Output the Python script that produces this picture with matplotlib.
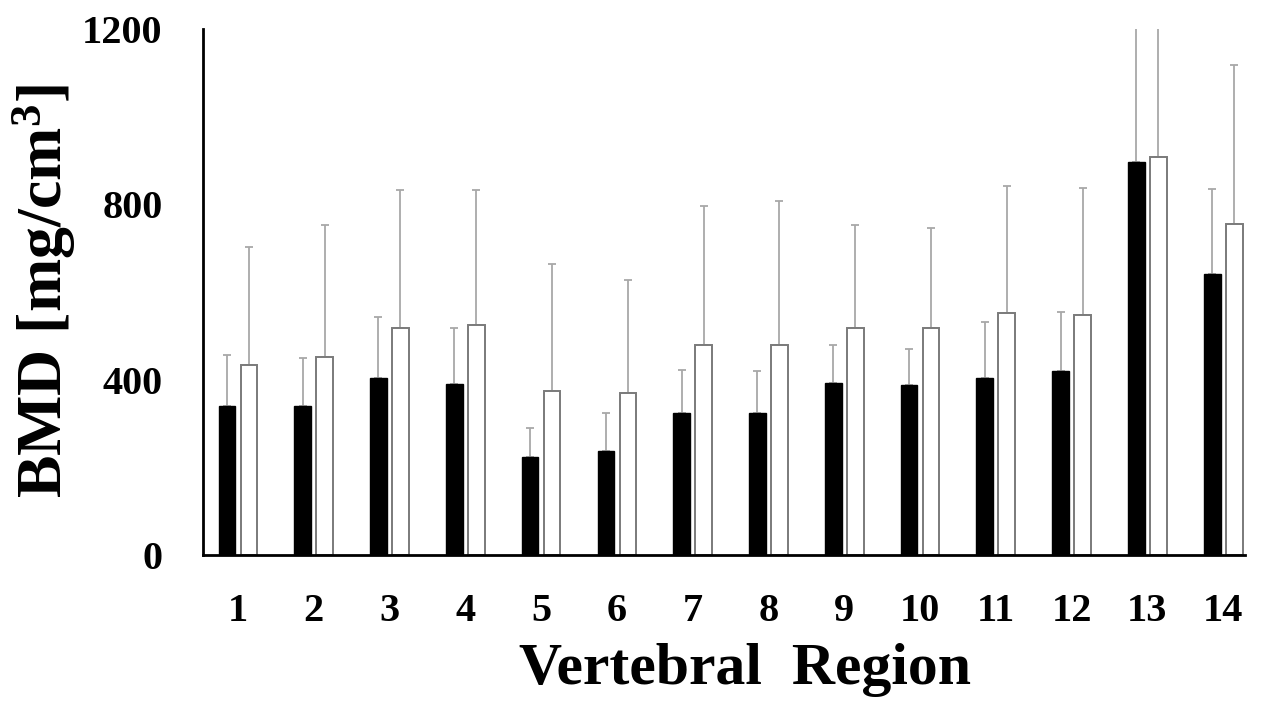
import matplotlib
matplotlib.use('Agg')
import matplotlib.pyplot as plt
import numpy as np

# ==========================================
# DATA
# ==========================================
regions = ['1', '2', '3', '4', '5', '6', '7', '8', '9', '10', '11', '12', '13', '14']
black_mean = [340, 340, 404, 390, 224, 238, 325, 323, 392, 387, 403, 420, 897, 640]
black_sd = [116, 109, 138, 127, 65, 87, 98, 96, 88, 83, 128, 135, 560, 194]
white_mean = [434, 452, 517, 525, 375, 369, 478, 478, 518, 517, 552, 548, 909, 755]
white_sd = [268, 300, 316, 308, 288, 258, 318, 330, 236, 228, 290, 290, 580, 364]

# ==========================================
# PLOTTING
# ==========================================
plt.rcParams['font.family'] = ['Liberation Serif', 'DejaVu Serif']
plt.rcParams['font.weight'] = 'bold'
plt.rcParams['mathtext.fontset'] = 'custom'
plt.rcParams['mathtext.rm'] = 'Liberation Serif:bold'
plt.rcParams['mathtext.bf'] = 'Liberation Serif:bold'
plt.rcParams['mathtext.default'] = 'rm'

fig = plt.figure(figsize=(12.68, 7.04), dpi=100)
ax = fig.add_axes([0.160, 0.2116, 0.822, 0.7472])

x = np.arange(1, len(regions) + 1)
w = 0.22
off = 0.145

# error bars sit behind the bars so only the upper whisker shows
err_kw = dict(ecolor='#a8a8a8', elinewidth=1.3, capsize=3, capthick=1.3, zorder=1.5)
ax.bar(x - off, black_mean, width=w, color='black', edgecolor='black',
       yerr=[np.zeros(len(x)), black_sd], error_kw=err_kw, zorder=2)
ax.bar(x + off, white_mean, width=w, color='white', edgecolor='#7a7a7a', linewidth=1.4,
       yerr=[np.zeros(len(x)), white_sd], error_kw=err_kw, zorder=2)

ax.set_xlim(0.538, 14.29)
ax.set_ylim(0, 1200)
ax.set_yticks([0, 400, 800, 1200])
ax.set_xticks(x)
ax.set_xticklabels(regions)

ax.spines['top'].set_visible(False)
ax.spines['right'].set_visible(False)
ax.spines['left'].set_linewidth(2)
ax.spines['bottom'].set_linewidth(2)
ax.spines['left'].set_zorder(3)
ax.spines['bottom'].set_zorder(3)
ax.tick_params(axis='both', length=0, labelsize=29)
ax.tick_params(axis='y', pad=29)
ax.tick_params(axis='x', pad=27)

ax.set_ylabel('BMD [mg/cm$^{3}$]', fontsize=46, fontweight='bold', va='center')
ax.yaxis.set_label_coords(-0.152, 0.502)
ax.set_xlabel('Vertebral  Region', fontsize=43, fontweight='bold', va='center')
ax.xaxis.set_label_coords(0.52, -0.219)

plt.savefig('out.png', dpi=100)
